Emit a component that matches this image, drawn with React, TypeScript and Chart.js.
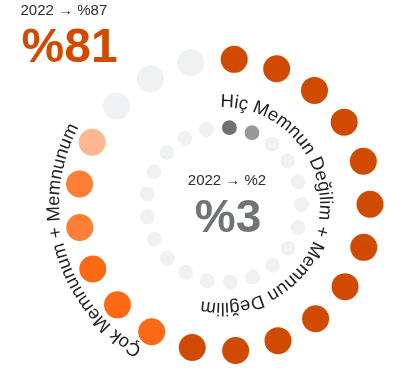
import React, { useEffect, useRef } from "react";
import { Chart, registerables } from "chart.js";

Chart.register(...registerables);

// ---- data ----
const dotSlots = ["1","2","3","4","5","6","7","8","9","10","11","12","13","14","15","16","17","18","19","20","21"];
// ring index for each dot (outer ring = 2, inner ring = 1)
const outerRing = [2,2,2,2,2,2,2,2,2,2,2,2,2,2,2,2,2,2,2,2,2];
const innerRing = [1,1,1,1,1,1,1,1,1,1,1,1,1,1,1,1,1,1,1,1,1];
// number of dots per colour group, clockwise from top
const outerGroups = [12, 3, 2, 1, 3];
const innerGroups = [1, 1, 19];

const outerLabel = "Çok Memnunum + Memnunum";
const innerLabel = "Hiç Memnun Değilim + Memnun Değilim";
const outerValue = "%81";
const outerPrev = "2022 → %87";
const innerValue = "%3";
const innerPrev = "2022 → %2";

// ---- styles ----
const outerPalette = ["#d04a02", "#fd6a15", "#fd7f35", "#feb791", "#f0f1f3"];
const innerPalette = ["#6e7073", "#98999b", "#f0f1f3"];
const FONT = '"Liberation Sans", Arial, Helvetica, sans-serif';

function expand(groups: number[], palette: string[]) {
  const out: string[] = [];
  groups.forEach((n, g) => { for (let i = 0; i < n; i++) out.push(palette[g]); });
  return out;
}

function drawArcText(ctx: CanvasRenderingContext2D, text: string, cx: number, cy: number, r: number, startDeg: number, font: string, color: string) {
  ctx.save();
  ctx.font = font;
  ctx.fillStyle = color;
  ctx.textBaseline = "alphabetic";
  ctx.textAlign = "center";
  const start = (startDeg * Math.PI) / 180;
  for (let i = 0; i < text.length; i++) {
    const ch = text[i];
    const before = ctx.measureText(text.slice(0, i)).width;
    const w = ctx.measureText(ch).width;
    const ang = start + (before + w / 2) / r;
    ctx.save();
    ctx.translate(cx, cy);
    ctx.rotate(ang);
    ctx.fillText(ch, 0, -r);
    ctx.restore();
  }
  ctx.restore();
}

const arcTextPlugin = {
  id: "arcText",
  afterDatasetsDraw(chart: any) {
    const s = chart.scales.r;
    const ctx = chart.ctx;
    drawArcText(ctx, innerLabel, s.xCenter - 2, s.yCenter, 98, -1, `18.5px ${FONT}`, "#222222");
    drawArcText(ctx, outerLabel, s.xCenter - 1, s.yCenter, 164, 209.5, `18.5px ${FONT}`, "#222222");
  },
};

export default function App() {
  const ref = useRef<HTMLCanvasElement | null>(null);
  useEffect(() => {
    if (!ref.current) return;
    const chart = new Chart(ref.current, {
      type: "radar",
      data: {
        labels: dotSlots,
        datasets: [
          {
            data: outerRing,
            showLine: false,
            borderWidth: 0,
            pointRadius: 13.5,
            pointHoverRadius: 13.5,
            pointBorderWidth: 0,
            pointBackgroundColor: expand(outerGroups, outerPalette),
            backgroundColor: "transparent",
          },
          {
            data: innerRing,
            showLine: false,
            borderWidth: 0,
            pointRadius: 7.4,
            pointHoverRadius: 7.4,
            pointBorderWidth: 0,
            pointBackgroundColor: expand(innerGroups, innerPalette),
            backgroundColor: "transparent",
          },
        ],
      },
      options: {
        responsive: false,
        animation: false,
        layout: { padding: { left: 54, right: 16, top: 35, bottom: 0 } },
        scales: {
          r: {
            min: -0.1316,
            max: 2.3504,
            startAngle: 4,
            grid: { display: false },
            angleLines: { display: false },
            ticks: { display: false },
            pointLabels: { display: false },
          },
        },
        plugins: { legend: { display: false }, tooltip: { enabled: false } },
      },
      plugins: [arcTextPlugin],
    });
    return () => chart.destroy();
  }, []);

  return (
    <div style={{ position: "fixed", left: 0, top: 0, width: 410, height: 375, background: "#fff", fontFamily: FONT }}>
      <canvas ref={ref} width={410} height={375} style={{ position: "absolute", left: 0, top: 0 }} />
      <div style={{ position: "absolute", left: 20.5, top: 2, fontSize: 15, lineHeight: 1, color: "#2d2d2d", whiteSpace: "nowrap" }}>{outerPrev}</div>
      <div style={{ position: "absolute", left: 21.5, top: 22, fontSize: 48, lineHeight: 1, fontWeight: 700, color: "#d04a02", whiteSpace: "nowrap" }}>{outerValue}</div>
      <div style={{ position: "absolute", left: 127, width: 200, top: 172, fontSize: 15, lineHeight: 1, color: "#2d2d2d", textAlign: "center", whiteSpace: "nowrap" }}>{innerPrev}</div>
      <div style={{ position: "absolute", left: 128, width: 200, top: 193, fontSize: 46, lineHeight: 1, fontWeight: 700, color: "#717477", textAlign: "center", whiteSpace: "nowrap" }}>{innerValue}</div>
    </div>
  );
}
